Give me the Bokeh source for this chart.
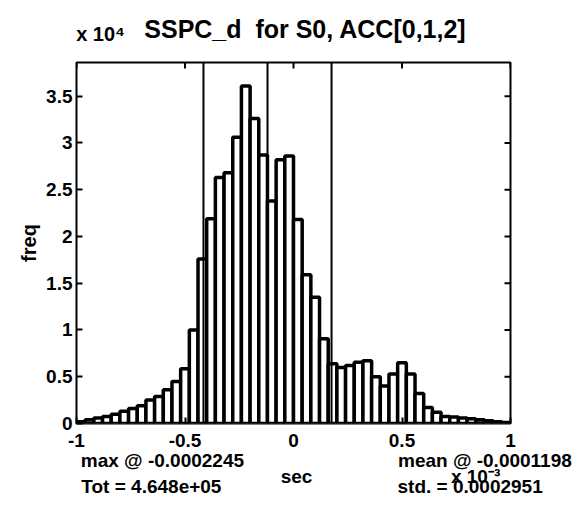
import numpy as np
from bokeh.plotting import figure
from bokeh.models import Range1d, FixedTicker, LinearAxis, Span, ColumnDataSource
from bokeh.embed import file_html
from bokeh.resources import INLINE

# ---- data (x in units of 1e-3 sec, counts per bin) ----
x_min, x_max, n_bins = -1.0, 1.0, 50
bin_counts = [200, 400, 600, 750, 1000, 1300, 1600, 1900, 2500, 2900,
              3600, 4500, 5850, 10000, 17600, 21900, 26300, 26800, 30600, 36100,
              32600, 28700, 23800, 28200, 28600, 21800, 15900, 13500, 9050, 6400,
              6000, 6200, 6550, 6700, 5000, 4000, 5300, 6500, 5300, 3200,
              1700, 1200, 750, 700, 600, 500, 400, 300, 200, 100]
mean_val = -0.1198   # x1e-3
std_val = 0.2951     # x1e-3
x_ticks = [-1, -0.5, 0, 0.5, 1]
x_tick_labels = ["-1", "-0.5", "0", "0.5", "1"]
y_ticks = [0, 0.5, 1, 1.5, 2, 2.5, 3, 3.5]
y_tick_labels = ["0", "0.5", "1", "1.5", "2", "2.5", "3", "3.5"]
y_top = 3.86
title_text = "SSPC_d\u00a0 for S0, ACC[0,1,2]"
y_mult_text = "x 10\u2074"
x_mult_text = "x 10\u207b\u00b3"
x_label = "sec"
y_label = "freq"
max_text = "max @ -0.0002245"
tot_text = "Tot = 4.648e+05"
mean_text = "mean @ -0.0001198"
std_text = "std. = 0.0002951"

edges = np.linspace(x_min, x_max, n_bins + 1)
src = ColumnDataSource(dict(left=edges[:-1], right=edges[1:],
                            top=np.array(bin_counts) / 1e4))

FONT = "Liberation Sans"

p = figure(width=577, height=508, x_range=Range1d(x_min, x_max), y_range=Range1d(0, y_top),
           output_backend="svg", toolbar_location=None,
           min_border_left=76, min_border_right=67, min_border_top=62, min_border_bottom=85,
           x_axis_location=None, y_axis_location=None)
p.title.visible = False
p.xgrid.visible = False
p.ygrid.visible = False
p.outline_line_color = "black"
p.outline_line_width = 2
p.background_fill_color = "white"
p.border_fill_color = "white"

def style_axis(ax, ticks, labels, size="19px", standoff=4, show_ticks=True):
    ax.ticker = FixedTicker(ticks=ticks)
    ax.axis_line_color = None
    ax.minor_tick_line_color = None
    if show_ticks:
        ax.major_tick_in = 6
        ax.major_tick_out = 0
        ax.major_tick_line_width = 2
        ax.major_tick_line_color = "black"
    else:
        ax.major_tick_in = 0
        ax.major_tick_out = 0
        ax.major_tick_line_color = None
    ax.major_label_overrides = {t: l for t, l in zip(ticks, labels)}
    ax.major_label_text_font = FONT
    ax.major_label_text_font_style = "bold"
    ax.major_label_text_font_size = size
    ax.major_label_text_color = "black"
    ax.major_label_standoff = standoff
    return ax

def text_axis(place, positions, texts, size, standoff):
    ax = style_axis(LinearAxis(), positions, texts, size=size, standoff=standoff,
                    show_ticks=False)
    p.add_layout(ax, place)
    return ax

# main axes
bottom = style_axis(LinearAxis(), x_ticks, x_tick_labels, standoff=10)
p.add_layout(bottom, "below")
left = style_axis(LinearAxis(), y_ticks, y_tick_labels, standoff=4)
left.axis_label = y_label
left.axis_label_text_font = FONT
left.axis_label_text_font_style = "bold"
left.axis_label_text_font_size = "20px"
left.axis_label_text_color = "black"
left.axis_label_standoff = 3
p.add_layout(left, "left")

# text rows under the axis (statistics) -- stacked axes used as text holders
text_axis("below", [-0.604, 0.882], [max_text, mean_text], "19px", 0)
text_axis("below", [0.0138, 0.839], [x_label, x_mult_text], "19px", -8)
text_axis("below", [-0.655, 0.814], [tot_text, std_text], "19px", -14)

# text rows above the axes
text_axis("above", [-0.889], [y_mult_text], "20px", 18)
text_axis("above", [0.055], [title_text], "25px", -23)

p.quad(left="left", right="right", bottom=0, top="top", source=src,
       fill_color="white", line_color="black", line_width=3.5)

# inward ticks on the top and right edges (MATLAB box style)
p.ray(x=x_ticks, y=[y_top] * len(x_ticks), length=6, length_units="screen",
      angle=-np.pi / 2, line_color="black", line_width=2)
p.ray(x=[x_max] * len(y_ticks), y=y_ticks, length=6, length_units="screen",
      angle=np.pi, line_color="black", line_width=2)

for loc in (mean_val - std_val, mean_val, mean_val + std_val):
    p.add_layout(Span(location=loc, dimension="height", line_color="black", line_width=2))

open("out.html", "w").write(file_html(p, INLINE))
